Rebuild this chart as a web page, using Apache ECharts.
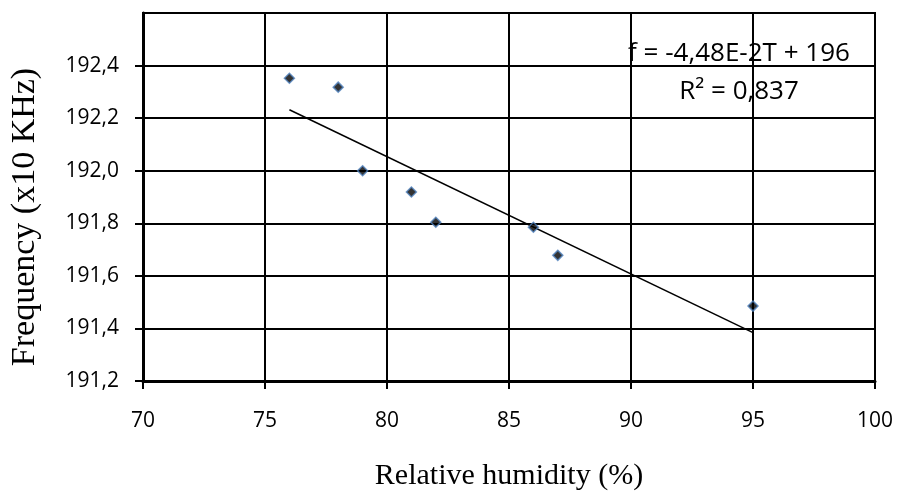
<!DOCTYPE html>
<html>
<head>
<meta charset="utf-8">
<script src="https://cdn.jsdelivr.net/npm/echarts@6/dist/echarts.min.js"></script>
<style>html,body{margin:0;padding:0;background:#fff}#c{width:898px;height:496px}</style>
</head>
<body>
<div id="c"></div>
<script>
var humidity = [76, 78, 79, 81, 82, 86, 87, 95];
var frequency = [192.352, 192.318, 192.000, 191.919, 191.804, 191.785, 191.678, 191.485];
var trendX = [76, 95];
var trendY = [192.232, 191.384];
var yTickValues = [191.2, 191.4, 191.6, 191.8, 192.0, 192.2, 192.4];
var equationText = 'f = -4,48E-2T + 196';
var r2Text = 'R\u00b2 = 0,837';
var xTitle = 'Relative humidity (%)';
var yTitle = 'Frequency (x10 KHz)';

var points = humidity.map(function (h, i) { return [h, frequency[i]]; });
var trend = trendX.map(function (x, i) { return [x, trendY[i]]; });

var chart = echarts.init(document.getElementById('c'), null, {renderer: 'canvas'});
var labelFont = '"Open Sans", sans-serif';
chart.setOption({
  animation: false,
  backgroundColor: '#ffffff',
  grid: {left: 140, top: 13, right: 23, bottom: 105, show: true, borderColor: '#000', borderWidth: 2, backgroundColor: 'transparent'},
  xAxis: {
    type: 'value', min: 70, max: 100, interval: 5,
    name: xTitle, nameLocation: 'middle', nameGap: 80,
    nameTextStyle: {fontFamily: '"Liberation Serif", serif', fontSize: 30, color: '#000'},
    axisLine: {show: true, lineStyle: {color: '#000', width: 3}},
    axisTick: {show: true, inside: false, length: 8, lineStyle: {color: '#000', width: 2}},
    axisLabel: {fontFamily: labelFont, fontSize: 21, color: '#000', margin: 30},
    splitLine: {show: true, lineStyle: {color: '#000', width: 2}}
  },
  yAxis: {
    type: 'value', min: 191.2, max: 192.6, interval: 0.2,
    name: yTitle, nameLocation: 'middle', nameGap: 101, nameRotate: 90,
    nameTextStyle: {fontFamily: '"Liberation Serif", serif', fontSize: 34, color: '#000', padding: [0, 40, 0, 0]},
    axisLine: {show: true, lineStyle: {color: '#000', width: 3}},
    axisTick: {show: true, inside: false, length: 8, customValues: yTickValues, lineStyle: {color: '#000', width: 2}},
    axisLabel: {fontFamily: labelFont, fontSize: 21, color: '#000', margin: 24, customValues: yTickValues,
      formatter: function (v) { if (v > 192.5) return ''; return v.toFixed(1).replace('.', ','); }},
    splitLine: {show: true, lineStyle: {color: '#000', width: 2}}
  },
  graphic: [
    {type: 'text', z: 100, position: [739, 54], style: {text: equationText, align: 'center', verticalAlign: 'middle', font: '26px "Open Sans", sans-serif', fill: '#000'}},
    {type: 'text', z: 100, position: [739, 92], style: {text: r2Text, align: 'center', verticalAlign: 'middle', font: '26px "Open Sans", sans-serif', fill: '#000'}}
  ],
  series: [
    {type: 'line', data: trend, symbol: 'none', lineStyle: {color: '#000', width: 1.5}, z: 3, silent: true},
    {type: 'scatter', data: points, symbol: 'diamond', symbolSize: 10,
     itemStyle: {color: '#000', borderColor: '#4F81BD', borderWidth: 1.5}, z: 4}
  ]
});
</script>
</body>
</html>
